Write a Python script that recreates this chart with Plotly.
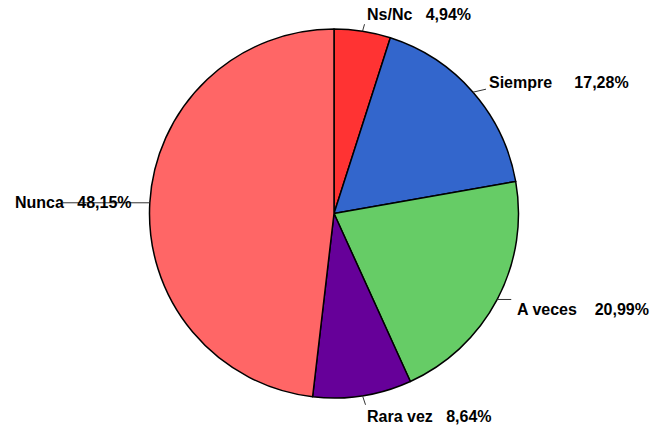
import math
import plotly.graph_objects as go

labels = ["Ns/Nc", "Siempre", "A veces", "Rara vez", "Nunca"]
values = [4.94, 17.28, 20.99, 8.64, 48.15]
pct_text = ["4,94%", "17,28%", "20,99%", "8,64%", "48,15%"]
colors = ["#FF3333", "#3366CC", "#66CC66", "#660099", "#FF6666"]

# layout / style (pixels)
W, H = 653, 429
CX, CY, R = 334, 213.5, 184.5
gaps = [3, 5, 4, 3, 3]  # spaces between name and percentage
# per label: leader-line offset from pie edge, text offset from line end, x-anchor
label_style = [
    dict(line=(2, -7), text=(1.5, -9.7), anchor="left"),
    dict(line=(13, -3), text=(1.7, -7), anchor="left"),
    dict(line=(14, 0), text=(4.5, 10.4), anchor="left"),
    dict(line=(3, 9), text=(0.2, 11.7), anchor="left"),
    dict(line=(-87, 0), text=(70, 0), anchor="right"),
]

def px(x, y):
    return x / W, 1 - y / H

fig = go.Figure(go.Pie(
    labels=labels, values=values, sort=False, direction="clockwise", rotation=0,
    marker=dict(colors=colors, line=dict(color="black", width=1.5)),
    textinfo="none", hoverinfo="label+percent",
    domain=dict(x=[(CX - R) / W, (CX + R) / W], y=[1 - (CY + R) / H, 1 - (CY - R) / H]),
))

total = sum(values)
cum = 0
shapes, annotations = [], []
for i, v in enumerate(values):
    mid = (cum + v / 2) / total * 2 * math.pi
    cum += v
    ex, ey = CX + R * math.sin(mid), CY - R * math.cos(mid)
    st = label_style[i]
    lx, ly = ex + st["line"][0], ey + st["line"][1]
    x0, y0 = px(ex, ey)
    x1, y1 = px(lx, ly)
    shapes.append(dict(type="line", xref="paper", yref="paper", x0=x0, y0=y0, x1=x1, y1=y1,
                       line=dict(color="#333333", width=1)))
    tx, ty = px(lx + st["text"][0], ly + st["text"][1])
    annotations.append(dict(
        xref="paper", yref="paper", x=tx, y=ty, xanchor=st["anchor"], yanchor="middle",
        text=labels[i] + "\u00a0" * gaps[i] + pct_text[i], showarrow=False,
        font=dict(family="Liberation Sans, Arial, sans-serif", size=16, color="black", weight="bold"),
        borderpad=0,
    ))

fig.update_layout(
    width=W, height=H, margin=dict(l=0, r=0, t=0, b=0),
    paper_bgcolor="white", plot_bgcolor="white", showlegend=False,
    shapes=shapes, annotations=annotations,
)
fig.write_html("out.html", config={"displayModeBar": False},
               post_script="document.body.style.margin='0';document.body.style.overflow='hidden';")
